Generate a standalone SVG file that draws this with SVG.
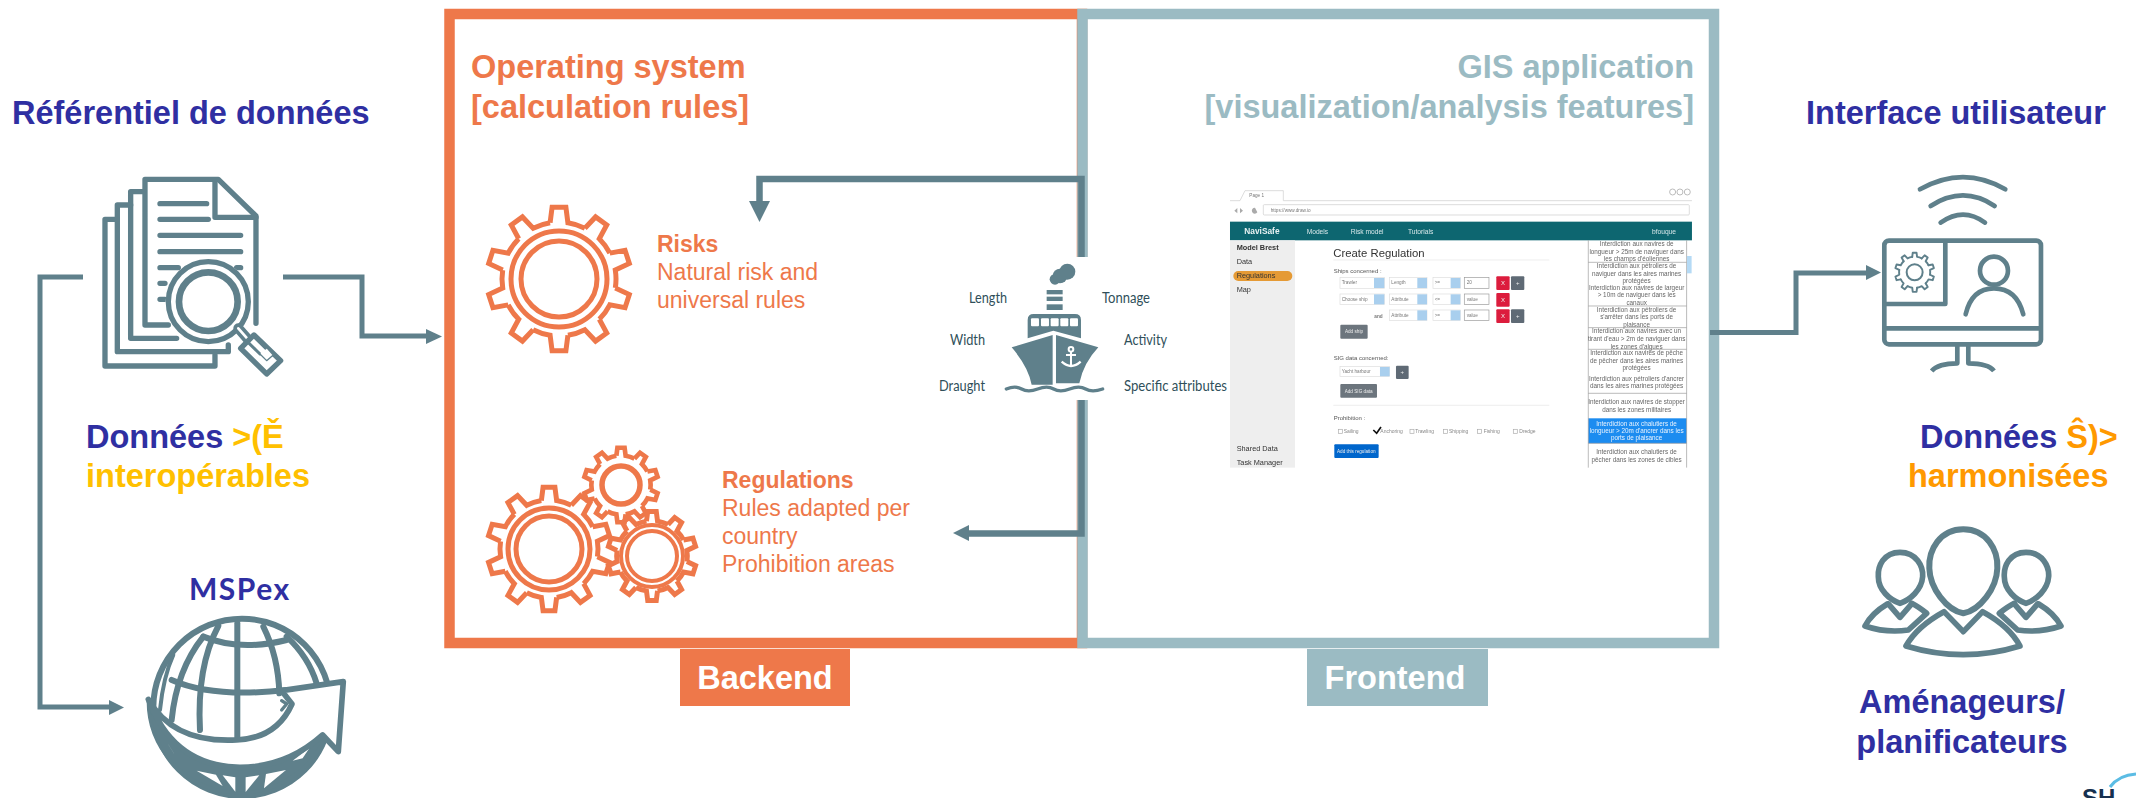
<svg xmlns="http://www.w3.org/2000/svg" width="2136" height="798" viewBox="0 0 2136 798">
<style>
text{font-family:"Liberation Sans",Arial,sans-serif}
.h{font-size:32.500px;font-weight:700}
.navy{fill:#2f2fa2}.yel{fill:#ffc000}.amb{fill:#ff9900}.org{fill:#ee784a}.blu{fill:#9bbbc3}
.o{font-size:23px;fill:#ee784a}.ob{font-weight:700}
.ship{font-family:Lato,"Open Sans",sans-serif;font-size:15.500px;fill:#2f4f5a}
.ic{fill:none;stroke:#5f808b;stroke-linecap:round;stroke-linejoin:round}
.cn{fill:none;stroke:#5f808b}
.ah{fill:#5f808b}
.gr{fill:none;stroke:#ee784a}
.ss{font-size:18px;fill:#555}
.li{font-size:19px;fill:#666;text-anchor:middle}
.nv{font-size:20px;fill:#d8e8ea}
.sd{font-size:22px;fill:#333}
.sel{fill:#fff;stroke:#ddd;stroke-width:2}
.sb{fill:#a9cfee}
.in{fill:#fff;stroke:#999;stroke-width:2}
.rd{fill:#dc1f3e}.gy{fill:#5f6b75}
.bt{font-size:14px;fill:#eee;text-anchor:middle}
.sm{font-size:14px;fill:#777}
.ck{font-size:15px;fill:#888}
.dv{stroke:#999;stroke-width:2}
</style>
<defs>
<path id="tooth" d="M-8.900-56.300L-6.900-71.700L6.900-71.700L8.900-56.300A57 57 0 0 1 25.900-50.800"/>
<g id="gear">
<use href="#tooth"/><use href="#tooth" transform="rotate(36)"/><use href="#tooth" transform="rotate(72)"/><use href="#tooth" transform="rotate(108)"/><use href="#tooth" transform="rotate(144)"/><use href="#tooth" transform="rotate(180)"/><use href="#tooth" transform="rotate(216)"/><use href="#tooth" transform="rotate(252)"/><use href="#tooth" transform="rotate(288)"/><use href="#tooth" transform="rotate(324)"/>
</g>
<filter id="soft" x="-2%" y="-2%" width="104%" height="104%"><feGaussianBlur stdDeviation="0.6"/></filter>
<clipPath id="globeClip"><rect x="0" y="0" width="1400" height="954"/></clipPath>
</defs>
<rect width="2136" height="798" fill="#fff"/>

<g id="backend-frame">
<path d="M449.500 14H1082V643H449.500Z" fill="none" stroke="#ee784a" stroke-width="10.500"/>
<text class="h org" x="471" y="78">Operating system</text>
<text class="h org" x="471" y="118">[calculation rules]</text>
<rect x="680" y="649" width="170" height="57" fill="#ee784a"/>
<text class="h" fill="#fff" x="765" y="689" text-anchor="middle">Backend</text>
</g>
<g id="frontend-frame">
<path d="M1082.500 14H1714V643H1082.500Z" fill="none" stroke="#9bbbc3" stroke-width="10.500"/>
<text class="h blu" x="1694" y="78" text-anchor="end">GIS application</text>
<text class="h blu" x="1694" y="118" text-anchor="end">[visualization/analysis features]</text>
<rect x="1307" y="649" width="181" height="57" fill="#9bbbc3"/>
<text class="h" fill="#fff" x="1395" y="689" text-anchor="middle">Frontend</text>
</g>

<g id="connectors">
<path class="cn" stroke-width="5" d="M283 277H362V336H428"/>
<path class="ah" d="M426 329L442 336.500L426 344Z"/>
<path class="cn" stroke-width="5" d="M83 277H40V707H111"/>
<path class="ah" d="M109 700L124 707.500L109 715Z"/>
<path class="cn" stroke-width="6.500" d="M1081.500 258V179H759.500V203"/>
<path class="ah" d="M749 201H770L759.500 222Z"/>
<path class="cn" stroke-width="6.500" d="M1081.500 400V533.500H967"/>
<path class="ah" d="M969 525V541L953 533Z"/>
<path class="cn" stroke-width="5" d="M1710 332.500H1796V273H1868"/>
<path class="ah" d="M1866 265L1881 272.500L1866 280Z"/>
</g>

<g id="data-repository">
<text class="h navy" x="12" y="124">Référentiel de données</text>
<g class="ic" stroke-width="16" transform="translate(0,80) scale(.3333)">
<path d="M505 735H435V298H655L768 408V730"/>
<path d="M645 305V412H768"/>
<path d="M480 371H620M480 418H625M480 466H722M480 515H722M480 563H535M710 563H722M480 610H495M480 658H495"/>
<path d="M530 775H392V335H430"/>
<path d="M685 795V815H352V375H392"/>
<path d="M645 825V858H315V418H352"/>
<circle cx="625" cy="665" r="128" fill="#fff" stroke="none"/>
<circle cx="625" cy="665" r="120" stroke-width="16"/>
<circle cx="625" cy="665" r="88" stroke-width="20"/>
<path d="M715 745L750 785" stroke-width="30"/>
<path d="M715 745L750 785" stroke="#fff" stroke-width="8"/>
<path d="M762 765L842 842L800 882L722 805Z" fill="#fff"/>
<path d="M742 785L780 822M762 770L800 808" stroke-width="9"/>
<path d="M780 822L800 842L820 825L802 805" fill="#fff" stroke-width="4"/>
</g>
<text class="h navy" x="86" y="448">Données <tspan class="yel">&gt;(Ě</tspan></text>
<text class="h yel" x="86" y="487">interopérables</text>
</g>

<g id="mspex">
<text x="189" y="600" style="font-family:Lato,'Open Sans',sans-serif;font-size:30px;font-weight:700;letter-spacing:1.500px" fill="#2f2fa2">MSPex</text>
<g class="ic" stroke-width="18" transform="translate(0,480) scale(.3333)" clip-path="url(#globeClip)">
<circle cx="726" cy="682" r="266" stroke-width="18"/>
<path d="M712 430V780"/>
<path d="M655 438Q590 560 600 750"/>
<path d="M790 440Q835 530 838 640"/>
<path d="M610 470Q530 570 515 720"/>
<path d="M860 470Q925 530 950 610"/>
<path d="M610 470Q720 515 860 480"/>
<path d="M515 600Q640 655 860 630"/>
<path d="M520 525Q490 590 480 690" stroke-width="12"/>
<path d="M445 660A276 276 0 0 0 992 715L968 765Q860 862 720 862Q520 860 445 660Z" fill="#5f808b" stroke-width="10"/>
<g fill="#fff" stroke="none">
<path d="M590 872L648 884L668 918Z"/><path d="M668 886L706 892L706 935Z"/><path d="M737 892L778 886L737 936Z"/><path d="M798 882L858 870L792 925Z"/>
<path d="M503 790L528 830L512 805Z"/><path d="M878 842L928 805L908 835Z"/>
</g>
<path d="M445 658Q520 790 710 780Q830 775 876 672L845 632L1030 605L1015 815L968 765Q860 862 720 862Q520 860 445 658Z" fill="#fff" stroke-width="17"/>
<path d="M845 662L860 672L845 690" stroke-width="10"/>
</g>
</g>

<g id="risks">
<g class="gr" stroke-width="5" transform="translate(559,279)">
<use href="#gear"/>
<circle r="48"/><circle r="38"/>
</g>
<text class="o ob" x="657" y="252">Risks</text>
<text class="o" x="657" y="280">Natural risk and</text>
<text class="o" x="657" y="308">universal rules</text>
</g>
<g id="regulations">
<g class="gr" stroke-width="5.800" transform="translate(549,549) scale(.86)"><use href="#gear"/></g>
<g class="gr" stroke-width="5"><circle cx="549" cy="549" r="41"/><circle cx="549" cy="549" r="33"/></g>
<g class="gr" stroke-width="9" transform="translate(621,485) scale(.52)"><use href="#gear"/></g>
<circle class="gr" stroke-width="5.500" cx="621" cy="485" r="19"/>
<g class="gr" stroke-width="8" transform="translate(652,556) scale(.62)"><use href="#gear"/></g>
<g class="gr" stroke-width="4"><circle cx="652" cy="556" r="31"/><circle cx="652" cy="556" r="25"/></g>
<text class="o ob" x="722" y="488">Regulations</text>
<text class="o" x="722" y="516">Rules adapted per</text>
<text class="o" x="722" y="544">country</text>
<text class="o" x="722" y="572">Prohibition areas</text>
</g>

<g id="ship">
<rect x="930" y="257" width="300" height="143" fill="#fff"/>
<g transform="translate(920,240) scale(.3333)" fill="#5f808b">
<circle cx="405" cy="118" r="16"/><circle cx="420" cy="108" r="22"/><circle cx="442" cy="95" r="24"/>
<rect x="380" y="150" width="48" height="13"/><rect x="380" y="170" width="48" height="13"/><rect x="380" y="193" width="48" height="17"/>
<path d="M323 240Q323 222 341 222H465Q483 222 483 240V295L400 272L323 295Z"/>
<g fill="#fff"><rect x="333" y="235" width="24" height="24" rx="3"/><rect x="363" y="235" width="24" height="24" rx="3"/><rect x="392" y="235" width="24" height="24" rx="3"/><rect x="421" y="235" width="24" height="24" rx="3"/><rect x="450" y="235" width="24" height="24" rx="3"/></g>
<path d="M275 322L398 285V434H335Q325 380 275 322Z"/>
<path d="M408 285L535 322Q490 370 478 430H408Z"/>
<g fill="none" stroke="#fff" stroke-width="6"><circle cx="453" cy="328" r="7"/><path d="M453 335V376M438 345H468"/><path d="M425 365Q440 378 453 378Q468 378 482 365" stroke-width="7"/></g>
<path d="M259 447Q286 436 305 447T353 447T401 447T449 447T497 447T548 447" fill="none" stroke="#5f808b" stroke-width="10" stroke-linecap="round"/>
</g>
<text class="ship" x="969" y="303" textLength="38" lengthAdjust="spacingAndGlyphs">Length</text>
<text class="ship" x="1102" y="303" textLength="48" lengthAdjust="spacingAndGlyphs">Tonnage</text>
<text class="ship" x="950" y="345" textLength="35" lengthAdjust="spacingAndGlyphs">Width</text>
<text class="ship" x="1124" y="345" textLength="43" lengthAdjust="spacingAndGlyphs">Activity</text>
<text class="ship" x="939" y="391" textLength="46" lengthAdjust="spacingAndGlyphs">Draught</text>
<text class="ship" x="1124" y="391" textLength="103" lengthAdjust="spacingAndGlyphs">Specific attributes</text>
</g>

<g id="screenshot" filter="url(#soft)">
<g transform="translate(1200,170) scale(.3333)">
<rect x="90" y="50" width="1386" height="843" fill="#fff"/>
<path d="M90 92H120L135 62H250V92H1476" fill="none" stroke="#ccc" stroke-width="2"/>
<text class="sm" x="148" y="80">Page 1</text>
<g fill="none" stroke="#bbb" stroke-width="3"><circle cx="1418" cy="66" r="9"/><circle cx="1440" cy="66" r="9"/><circle cx="1462" cy="66" r="9"/></g>
<path d="M103 122L112 114V130ZM129 122L120 114V130ZM165 113A9 9 0 1 0 172 127" fill="#aaa"/>
<rect x="190" y="104" width="1278" height="31" rx="3" fill="#fff" stroke="#ccc" stroke-width="2"/>
<text class="sm" x="212" y="126">https://www.draw.io</text>
<rect x="90" y="155" width="1386" height="56" fill="#0e6670"/>
<text x="133" y="192" style="font-size:25px;font-weight:700" fill="#e8f2f3">NaviSafe</text>
<text class="nv" x="320" y="191">Models</text>
<text class="nv" x="452" y="191">Risk model</text>
<text class="nv" x="624" y="191">Tutorials</text>
<text class="nv" x="1356" y="191">bfouque</text>
<rect x="90" y="211" width="195" height="682" fill="#eee"/>
<text class="sd" style="font-weight:700" x="110" y="241">Model Brest</text>
<text class="sd" x="110" y="283">Data</text>
<rect x="100" y="303" width="177" height="30" rx="15" fill="#e59a35"/>
<text class="sd" x="110" y="324">Regulations</text>
<text class="sd" x="110" y="365">Map</text>
<text class="sd" x="110" y="842">Shared Data</text>
<text class="sd" x="110" y="884">Task Manager</text>

<text x="400" y="261" style="font-size:34px" fill="#333">Create Regulation</text>
<path d="M400 270H1048M400 706H1048" stroke="#e5e5e5" stroke-width="2"/>
<text class="ss" x="401" y="308">Ships concerned :</text>

<rect class="sel" x="420" y="323" width="133" height="32"/><rect class="sb" x="522" y="324" width="31" height="30"/><text class="sm" x="425" y="343">Trawler</text>
<rect class="sel" x="568" y="323" width="113" height="32"/><rect class="sb" x="652" y="324" width="29" height="30"/><text class="sm" x="574" y="343">Length</text>
<rect class="sel" x="699" y="323" width="82" height="32"/><rect class="sb" x="752" y="324" width="29" height="30"/><text class="sm" x="704" y="343">&gt;=</text>
<rect class="in" x="793" y="323" width="74" height="32"/><text class="sm" x="800" y="343">20</text>
<rect class="rd" x="889" y="319" width="40" height="41" rx="3"/><text class="bt" x="909" y="345" style="font-size:18px">X</text>
<rect class="gy" x="933" y="319" width="40" height="41" rx="3"/><text class="bt" x="953" y="345" style="font-size:18px">+</text>

<rect class="sel" x="420" y="372" width="133" height="32"/><rect class="sb" x="522" y="373" width="31" height="30"/><text class="sm" x="425" y="393">Choose ship</text>
<rect class="sel" x="568" y="372" width="113" height="32"/><rect class="sb" x="652" y="373" width="29" height="30"/><text class="sm" x="574" y="393">Attribute</text>
<rect class="sel" x="699" y="372" width="82" height="32"/><rect class="sb" x="752" y="373" width="29" height="30"/><text class="sm" x="704" y="393">&lt;=</text>
<rect class="in" x="793" y="372" width="74" height="32"/><text class="sm" x="800" y="393">value</text>
<rect class="rd" x="889" y="369" width="40" height="41" rx="3"/><text class="bt" x="909" y="395" style="font-size:18px">X</text>

<text class="sm" style="font-weight:700" x="523" y="443">and</text>
<rect class="sel" x="568" y="420" width="113" height="32"/><rect class="sb" x="652" y="421" width="29" height="30"/><text class="sm" x="574" y="441">Attribute</text>
<rect class="sel" x="699" y="420" width="82" height="32"/><rect class="sb" x="752" y="421" width="29" height="30"/><text class="sm" x="704" y="441">&gt;=</text>
<rect class="in" x="793" y="420" width="74" height="32"/><text class="sm" x="800" y="441">value</text>
<rect class="rd" x="889" y="418" width="40" height="41" rx="3"/><text class="bt" x="909" y="444" style="font-size:18px">X</text>
<rect class="gy" x="933" y="418" width="40" height="41" rx="3"/><text class="bt" x="953" y="444" style="font-size:18px">+</text>

<rect x="421" y="464" width="82" height="42" rx="3" fill="#6c757d"/><text class="bt" x="462" y="490">Add ship</text>

<text class="ss" x="401" y="570">SIG data concerned:</text>
<rect class="sel" x="420" y="590" width="149" height="30"/><rect class="sb" x="540" y="591" width="29" height="28"/><text class="sm" x="425" y="609">Yacht harbour</text>
<rect class="gy" x="588" y="587" width="38" height="40" rx="3"/><text class="bt" x="607" y="612" style="font-size:18px">+</text>
<rect x="421" y="642" width="110" height="41" rx="3" fill="#6c757d"/><text class="bt" x="476" y="668">Add SIG data</text>

<text class="ss" x="401" y="751">Prohibition :</text>
<g fill="none" stroke="#aaa" stroke-width="2"><rect x="415" y="778" width="12" height="12"/><rect x="630" y="778" width="12" height="12"/><rect x="731" y="778" width="12" height="12"/><rect x="833" y="778" width="12" height="12"/><rect x="940" y="778" width="12" height="12"/></g>
<path d="M520 780L530 790L543 771" fill="none" stroke="#111" stroke-width="5"/>
<text class="ck" x="431" y="790">Sailing</text><text class="ck" x="541" y="790">Anchoring</text><text class="ck" x="646" y="790">Trawling</text><text class="ck" x="747" y="790">Shipping</text><text class="ck" x="851" y="790">Fishing</text><text class="ck" x="958" y="790">Dredge</text>
<rect x="403" y="823" width="133" height="41" rx="3" fill="#0066cc"/><text class="bt" x="469" y="849">Add this regulation</text>

<rect x="1165" y="745" width="295" height="75" fill="#1e8cf0"/>
<path class="dv" fill="none" d="M1165 211V893M1460 211V893M1165 277H1460M1165 408H1460M1165 473H1460M1165 538H1460M1165 670H1460M1165 820H1460"/>
<rect x="1461" y="258" width="14" height="52" fill="#b5daf5"/>
<text class="li" x="1310" y="228">Interdiction aux navires de</text>
<text class="li" x="1310" y="251">longueur &gt; 25m de naviguer dans</text>
<text class="li" x="1310" y="274">les champs d'éoliennes</text>
<text class="li" x="1310" y="294">Interdiction aux pétroliers de</text>
<text class="li" x="1310" y="317">naviguer dans les aires marines</text>
<text class="li" x="1310" y="339">protégées</text>
<text class="li" x="1310" y="360">Interdiction aux navires de largeur</text>
<text class="li" x="1310" y="382">&gt; 10m de naviguer dans les</text>
<text class="li" x="1310" y="404">canaux</text>
<text class="li" x="1310" y="425">Interdiction aux pétroliers de</text>
<text class="li" x="1310" y="447">s'arrêter dans les ports de</text>
<text class="li" x="1310" y="470">plaisance</text>
<text class="li" x="1310" y="490">Interdiction aux navires avec un</text>
<text class="li" x="1310" y="513">tirant d'eau &gt; 2m de naviguer dans</text>
<text class="li" x="1310" y="536">les zones d'algues</text>
<text class="li" x="1310" y="556">Interdiction aux navires de pêche</text>
<text class="li" x="1310" y="578">de pêcher dans les aires marines</text>
<text class="li" x="1310" y="601">protégées</text>
<text class="li" x="1310" y="633">Interdiction aux pétroliers d'ancrer</text>
<text class="li" x="1310" y="655">dans les aires marines protégées</text>
<text class="li" x="1310" y="703">Interdiction aux navires de stopper</text>
<text class="li" x="1310" y="725">dans les zones militaires</text>
<text class="li" style="fill:#e8f3fd" x="1310" y="767">Interdiction aux chalutiers de</text>
<text class="li" style="fill:#e8f3fd" x="1310" y="789">longueur &gt; 20m d'ancrer dans les</text>
<text class="li" style="fill:#e8f3fd" x="1310" y="811">ports de plaisance</text>
<text class="li" x="1310" y="853">Interdiction aux chalutiers de</text>
<text class="li" x="1310" y="875">pêcher dans les zones de cibles</text>
</g>
</g>

<g id="user-interface">
<text class="h navy" x="1806" y="124">Interface utilisateur</text>
<g class="ic" stroke-width="14" transform="translate(1700,80) scale(.3333)">
<path d="M660 328Q790 255 916 328M692 378Q790 315 884 378M722 428Q790 380 855 428"/>
<rect x="553" y="482" width="470" height="311" rx="14"/>
<path d="M736 482V672H553M553 745H1023" stroke-linecap="butt"/>
<path d="M772 793V850Q715 850 695 873M805 793V850Q865 850 882 873" stroke-linecap="butt"/>
<circle cx="882" cy="572" r="42"/>
<path d="M797 703Q815 625 882 625Q950 625 970 703"/>
<g transform="translate(644,577) scale(.82)" stroke-width="7"><use href="#gear"/></g>
<circle cx="644" cy="577" r="24" stroke-width="6"/>
</g>
<text class="h navy" x="1920" y="448">Données <tspan class="amb">Ŝ)&gt;</tspan></text>
<text class="h amb" x="1908" y="487">harmonisées</text>
</g>

<g id="planners">
<g class="ic" stroke-width="17" transform="translate(1780,400) scale(.3333)">
<path id="headL" d="M360 457C410 457 430 500 428 530C425 570 390 600 360 610C330 600 295 570 295 530C293 500 310 457 360 457Z"/>
<path d="M738 457C788 457 808 500 806 530C803 570 768 600 738 610C708 600 673 570 673 530C671 500 688 457 738 457Z"/>
<path d="M325 612L360 652L395 612"/>
<path d="M703 612L738 652L773 612"/>
<path d="M322 612Q275 640 255 678Q320 700 385 690L440 640Q415 620 395 610"/>
<path d="M776 612Q823 640 843 678Q778 700 713 690L658 640Q683 620 703 610"/>
<path d="M492 635Q410 680 378 738Q550 790 720 738Q690 680 608 635L550 695Z" fill="#fff"/>
<path d="M550 388C620 388 655 450 652 505C650 565 600 630 550 640C500 630 450 565 448 505C445 450 480 388 550 388Z" fill="#fff" stroke-width="18"/>
</g>
<text class="h navy" x="1962" y="713" text-anchor="middle">Aménageurs/</text>
<text class="h navy" x="1962" y="753" text-anchor="middle">planificateurs</text>
</g>

<g id="logo">
<path d="M2110 787Q2119 775 2136 774" fill="none" stroke="#5bbce4" stroke-width="3"/>
<text x="2082" y="806" style="font-size:24px;font-weight:700" fill="#16304f">SH</text>
</g>
</svg>
